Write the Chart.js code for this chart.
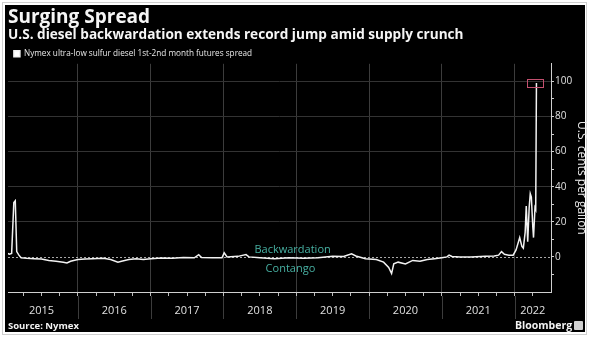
<!DOCTYPE html>
<html>
<head>
<meta charset="utf-8">
<script src="https://cdn.jsdelivr.net/npm/chart.js@4/dist/chart.umd.min.js"></script>
<style>
  html, body { margin: 0; padding: 0; background: #fff; width: 589px; height: 337px; overflow: hidden; }
  .frame { position: absolute; left: 2px; top: 2px; width: 583px; height: 331px; border: 1px solid #cfcfcf; }
  .panel { position: absolute; left: 5px; top: 5px; width: 580px; height: 327px; background: #000; }
  #wrap { position: absolute; left: 0; top: 0; width: 589px; height: 337px; }
  .src { position: absolute; left: 8px; top: 319px; font: bold 9.5px "Open Sans", sans-serif; color: #f2f2f2; }
  .bbg { position: absolute; left: 515px; top: 318px; font: bold 10.5px "Open Sans", sans-serif; color: #f2f2f2; }
  .icon { position: absolute; left: 574px; top: 321px; width: 9px; height: 9px; background: #cfcfcf; border-radius: 1px; }
</style>
</head>
<body>
<div class="frame"></div>
<div class="panel"></div>
<div id="wrap"><canvas id="c" width="589" height="337"></canvas></div>
<div class="src">Source: Nymex</div>
<div class="bbg">Bloomberg</div>
<div class="icon"></div>
<script>
// ---- data (decimal year, U.S. cents per gallon) ----
const dates = [
  2015.03, 2015.06, 2015.09, 2015.12, 2015.14, 2015.16, 2015.19, 2015.22, 2015.30, 2015.40,
  2015.50, 2015.60, 2015.70, 2015.80, 2015.85, 2015.90, 2016.00, 2016.10, 2016.20, 2016.35,
  2016.45, 2016.55, 2016.60, 2016.70, 2016.80, 2016.90, 2017.00, 2017.15, 2017.30, 2017.45,
  2017.60, 2017.66, 2017.70, 2017.85, 2017.98, 2018.01, 2018.05, 2018.20, 2018.31, 2018.35,
  2018.50, 2018.70, 2018.90, 2019.10, 2019.30, 2019.50, 2019.65, 2019.76, 2019.82, 2019.95,
  2020.10, 2020.20, 2020.27, 2020.31, 2020.34, 2020.40, 2020.50, 2020.60, 2020.70, 2020.80,
  2020.90, 2021.00, 2021.07, 2021.10, 2021.14, 2021.25, 2021.40, 2021.60, 2021.72, 2021.78,
  2021.82, 2021.86, 2021.92, 2021.98, 2022.02, 2022.07, 2022.10, 2022.12, 2022.145, 2022.16,
  2022.18, 2022.20, 2022.215, 2022.23, 2022.25, 2022.26, 2022.28, 2022.29, 2022.30
];
const spread = [
  2.0, 1.5, 2.0, 31.0, 32.0, 3.0, 1.0, -0.5, -0.8, -1.0,
  -1.2, -2.0, -2.5, -3.0, -3.5, -2.5, -1.5, -1.2, -1.0, -0.8,
  -1.5, -3.0, -2.5, -1.5, -1.0, -1.5, -1.0, -0.6, -0.8, -0.4,
  -0.5, 1.3, -0.3, -0.5, -0.5, 2.3, 0.0, 0.3, 1.3, 0.0,
  -0.5, -1.0, -0.5, -0.8, -0.5, 0.3, 0.2, 1.7, 0.5, -1.0,
  -1.5, -3.0, -6.0, -9.5, -4.0, -3.0, -4.0, -2.0, -2.5, -1.5,
  -1.0, -0.5, 0.0, 1.0, 0.2, 0.0, 0.0, 0.3, 0.5, 1.0,
  3.0, 1.5, 1.0, 1.0, 4.0, 11.0, 6.0, 5.0, 14.0, 29.0,
  8.7, 28.0, 36.0, 34.0, 17.0, 11.0, 28.0, 27.0, 99.0
];
const yearLabels = ['2015', '2016', '2017', '2018', '2019', '2020', '2021', '2022'];
const yearLabelPos = [2015.5, 2016.5, 2017.5, 2018.5, 2019.5, 2020.5, 2021.5, 2022.25];
const yTickValues = [-10, 0, 10, 20, 30, 40, 50, 60, 70, 80, 90, 100];
const yLabelValues = [0, 20, 40, 60, 80, 100];
const notes = [
  { text: 'Backwardation', x: 2018.95, y: 4.2 },
  { text: 'Contango', x: 2018.92, y: -6.8 }
];

const points = dates.map((d, i) => ({ x: d, y: spread[i] }));
const quarterTicks = [];
for (let v = 2015; v <= 2022.5 + 1e-9; v += 0.25) quarterTicks.push(Math.round(v * 100) / 100);

const isInt = v => Math.abs(v - Math.round(v)) < 1e-6;

const decor = {
  id: 'decor',
  afterInit(chart) {
    // tighten the gap Chart.js leaves under the legend
    const lg = chart.legend;
    if (lg && !lg._patched) {
      const origFit = lg.fit;
      lg.fit = function () { origFit.call(this); this.height = Math.max(0, this.height - 4); };
      lg._patched = true;
    }
  },
  beforeDatasetsDraw(chart) {
    const { ctx, chartArea, scales } = chart;
    const xs = scales.x, ys = scales.y;
    ctx.save();
    const y0 = ys.getPixelForValue(0);
    ctx.strokeStyle = '#a8a8a8';
    ctx.lineWidth = 1;
    ctx.setLineDash([2, 2]);
    ctx.beginPath();
    ctx.moveTo(chartArea.left, Math.round(y0) + 0.5);
    ctx.lineTo(chartArea.right, Math.round(y0) + 0.5);
    ctx.stroke();
    ctx.setLineDash([]);
    ctx.strokeStyle = '#3c3c3c';
    for (let yr = 2016; yr <= 2022; yr++) {
      const px = Math.round(xs.getPixelForValue(yr)) + 0.5;
      ctx.beginPath();
      ctx.moveTo(px, chartArea.bottom + 4);
      ctx.lineTo(px, chartArea.bottom + 27);
      ctx.stroke();
    }
    ctx.fillStyle = '#47b0a2';
    ctx.font = '11px "Open Sans", sans-serif';
    ctx.textAlign = 'center';
    ctx.textBaseline = 'middle';
    notes.forEach(n => ctx.fillText(n.text, xs.getPixelForValue(n.x), ys.getPixelForValue(n.y)));
    ctx.restore();
  },
  afterDatasetsDraw(chart) {
    const { ctx } = chart;
    const meta = chart.getDatasetMeta(0);
    const last = meta.data[meta.data.length - 1];
    ctx.save();
    ctx.strokeStyle = '#c4506f';
    ctx.lineWidth = 1;
    ctx.strokeRect(Math.round(last.x) - 8.5, Math.round(last.y) - 3.5, 16, 8);
    ctx.restore();
  }
};

new Chart(document.getElementById('c'), {
  type: 'line',
  data: {
    datasets: [{
      label: 'Nymex ultra-low sulfur diesel 1st-2nd month futures spread',
      data: points,
      borderColor: '#f2f2f2',
      backgroundColor: '#ffffff',
      borderWidth: 1.5,
      pointRadius: 0,
      tension: 0
    }]
  },
  options: {
    responsive: false,
    animation: false,
    layout: { padding: { left: 8, right: 0, top: 0, bottom: 0 } },
    plugins: {
      title: {
        display: true,
        text: 'Surging Spread',
        align: 'start',
        color: '#f5f5f5',
        font: { family: '"Open Sans", sans-serif', size: 19, weight: 'bold', lineHeight: 1 },
        padding: { top: 8.5, bottom: 1 }
      },
      subtitle: {
        display: true,
        text: 'U.S. diesel backwardation extends record jump amid supply crunch',
        align: 'start',
        color: '#f5f5f5',
        font: { family: '"Open Sans", sans-serif', size: 13.6, weight: 'bold', lineHeight: 1 },
        padding: { top: 0, bottom: 1.6 }
      },
      legend: {
        display: true,
        align: 'start',
        labels: {
          color: '#e8e8e8',
          font: { family: '"Open Sans", sans-serif', size: 8.2 },
          boxWidth: 6,
          boxHeight: 6,
          padding: 5.9
        }
      },
      tooltip: { enabled: false }
    },
    scales: {
      x: {
        type: 'linear',
        min: 2015.04,
        max: 2022.5,
        afterBuildTicks: axis => { axis.ticks = quarterTicks.filter(v => v >= axis.min).map(v => ({ value: v })); },
        afterFit: axis => { axis.height = 45; },
        ticks: {
          autoSkip: false,
          maxRotation: 0,
          color: '#e0e0e0',
          font: { family: '"Open Sans", sans-serif', size: 11 },
          padding: 8,
          callback: v => {
            const i = yearLabelPos.findIndex(p => Math.abs(p - v) < 1e-6);
            return i >= 0 ? yearLabels[i] : '';
          }
        },
        grid: {
          color: c => (c.tick && isInt(c.tick.value) && c.tick.value > 2015 && c.tick.value < 2022.5) ? '#3c3c3c' : 'rgba(0,0,0,0)',
          tickColor: c => (c.tick && c.tick.value < 2022.5) ? '#bdbdbd' : 'rgba(0,0,0,0)',
          tickLength: 4,
          lineWidth: 1
        },
        border: { color: '#cfcfcf', width: 1 }
      },
      y: {
        type: 'linear',
        position: 'right',
        min: -20,
        max: 110,
        afterBuildTicks: axis => { axis.ticks = yTickValues.map(v => ({ value: v })); },
        afterFit: axis => { axis.width = 38; },
        ticks: {
          autoSkip: false,
          color: '#e0e0e0',
          font: { family: '"Open Sans", sans-serif', size: 10 },
          padding: 1,
          callback: v => yLabelValues.includes(v) ? String(v) : ''
        },
        grid: {
          color: c => (c.tick && c.tick.value >= 20 && c.tick.value <= 100 && c.tick.value % 20 === 0) ? '#333333' : 'rgba(0,0,0,0)',
          tickColor: '#cfcfcf',
          tickLength: 3,
          lineWidth: 1
        },
        border: { color: '#cfcfcf', width: 1 },
        title: {
          display: true,
          text: 'U.S. cents per gallon',
          color: '#e8e8e8',
          font: { family: '"Open Sans", sans-serif', size: 12, lineHeight: 1 },
          padding: { top: 2, bottom: 0 }
        }
      }
    }
  },
  plugins: [decor]
});
</script>
</body>
</html>
